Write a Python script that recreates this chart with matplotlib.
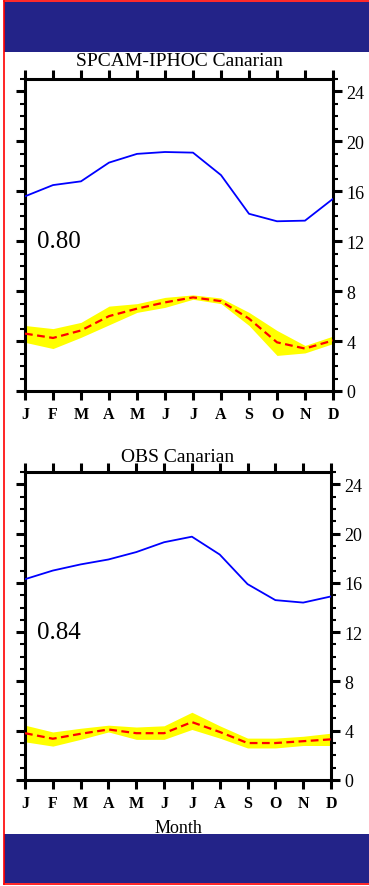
import matplotlib
matplotlib.use("Agg")
import matplotlib.pyplot as plt
from matplotlib.patches import Rectangle
from matplotlib.lines import Line2D
from matplotlib.ticker import MultipleLocator
import numpy as np

plt.rcParams['font.family'] = ['Liberation Serif', 'DejaVu Serif']

months = ['J', 'F', 'M', 'A', 'M', 'J', 'J', 'A', 'S', 'O', 'N', 'D']

# SPCAM-IPHOC Canarian
model_blue = [15.6, 16.5, 16.8, 18.3, 19.0, 19.15, 19.1, 17.3, 14.2, 13.6, 13.65, 15.4]
model_red = [4.6, 4.25, 4.85, 6.0, 6.6, 7.1, 7.5, 7.2, 5.8, 3.9, 3.4, 4.05]
model_upper = [5.25, 5.0, 5.5, 6.8, 7.0, 7.5, 7.7, 7.45, 6.3, 4.85, 3.65, 4.4]
model_lower = [3.9, 3.4, 4.3, 5.3, 6.3, 6.7, 7.35, 7.0, 5.25, 2.85, 3.05, 3.8]
model_corr = "0.80"

# OBS Canarian
obs_blue = [16.3, 17.0, 17.5, 17.9, 18.5, 19.3, 19.75, 18.3, 15.9, 14.6, 14.4, 14.9]
obs_red = [3.8, 3.35, 3.75, 4.1, 3.8, 3.8, 4.7, 3.9, 3.0, 3.0, 3.15, 3.3]
obs_upper = [4.45, 3.9, 4.2, 4.45, 4.3, 4.4, 5.5, 4.4, 3.4, 3.4, 3.55, 3.8]
obs_lower = [3.1, 2.75, 3.3, 3.9, 3.3, 3.3, 4.1, 3.4, 2.6, 2.6, 2.8, 2.8]
obs_corr = "0.84"

W, H = 369, 887
fig = plt.figure(figsize=(W / 100, H / 100), dpi=100)

def fx(px):
    return px / W

def fy(py):
    return 1 - py / H

def panel(rect, blue, red, upper, lower, corr, title, title_y, show_xlabel):
    ax = fig.add_axes(rect)
    x = np.arange(12)
    ax.fill_between(x, lower, upper, color='#ffff00', linewidth=0, zorder=1)
    ax.plot(x, blue, color='#0000ff', lw=1.3, zorder=3)
    ax.plot(x, red, color='#ff0000', lw=1.6, linestyle=(0, (3.5, 2)), zorder=4)
    ax.set_xlim(0, 11)
    ax.set_ylim(0, 25)
    ax.set_xticks(x)
    ax.set_xticklabels(months, fontsize=11.5, fontweight='bold')
    ax.yaxis.set_major_locator(MultipleLocator(4))
    ax.yaxis.set_minor_locator(MultipleLocator(1))
    ax.tick_params(axis='both', which='major', direction='out', length=6.5, width=2.2,
                   top=True, bottom=True, left=True, right=True,
                   labelleft=False, labelright=True, labeltop=False, labelbottom=True)
    ax.tick_params(axis='y', which='minor', direction='out', length=3.5, width=1.5,
                   left=True, right=True)
    ax.tick_params(axis='y', labelsize=13, pad=3)
    ax.tick_params(axis='x', pad=4)
    for s in ax.spines.values():
        s.set_linewidth(2.2)
    ax.text(0.04, 0.48, corr, transform=ax.transAxes, fontsize=18,
            ha='left', va='center')
    cx = rect[0] + rect[2] / 2
    fig.text(cx, fy(title_y), title, fontsize=14, ha='center', va='center')
    if show_xlabel:
        fig.text(cx, fy(829), 'Month', fontsize=13, ha='center', va='center')
    return ax

ax1 = panel([fx(25), fy(392), fx(333 - 25), (392 - 80) / H],
            model_blue, model_red, model_upper, model_lower, model_corr,
            'SPCAM-IPHOC Canarian', 62, False)
ax2 = panel([fx(25), fy(781), fx(331 - 25), (781 - 473) / H],
            obs_blue, obs_red, obs_upper, obs_lower, obs_corr,
            'OBS Canarian', 457, True)

# dark blue bands and red frame
band = '#232388'
fig.add_artist(Rectangle((fx(4), fy(53)), 1, (53 - 3) / H, transform=fig.transFigure,
                         facecolor=band, edgecolor='none', zorder=10))
fig.add_artist(Rectangle((fx(4), fy(884)), 1, (884 - 835) / H, transform=fig.transFigure,
                         facecolor=band, edgecolor='none', zorder=10))
fig.add_artist(Line2D([fx(4), fx(4)], [fy(2), fy(885)], transform=fig.transFigure,
                      color='#ff0000', lw=1.2, zorder=11))
fig.add_artist(Line2D([fx(4), 1], [fy(2), fy(2)], transform=fig.transFigure,
                      color='#ff0000', lw=1.2, zorder=11))
fig.add_artist(Line2D([fx(4), 1], [fy(885), fy(885)], transform=fig.transFigure,
                      color='#ff0000', lw=1.2, zorder=11))

fig.savefig('out.png', dpi=100)
